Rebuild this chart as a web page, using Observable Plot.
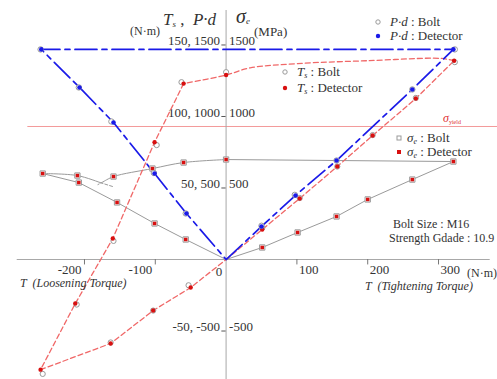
<!DOCTYPE html>
<html><head><meta charset="utf-8">
<script src="https://cdn.jsdelivr.net/npm/d3@7"></script>
<script src="https://cdn.jsdelivr.net/npm/@observablehq/plot@0.6"></script>
<style>
body{margin:0;background:#fff;}
#chart{width:497px;height:379px;overflow:hidden;}
#chart svg text{font-family:"Liberation Serif", serif;}
</style></head><body><div id="chart"></div>
<script>
// ---------- data (T = applied torque, N·m) ----------
// P·d (plotted on the 1500 scale)
const pdTorque     = [0, 50, 98, 156, 263, 321, -261, -207, -159, -101, -56, 0];
const pdDetector   = [0, 231, 448, 692, 1189, 1469, 1469, 1203, 958, 601, 322, 0];
const pdBoltTorque = [0, 50, 97, 156, 263, 323, -262, -208, -162, -102, -57, 0];
const pdBolt       = [0, 236, 452, 692, 1189, 1469, 1469, 1203, 965, 605, 322, 0];

// Ts (N·m) — path pieces
const tsTightTorque   = [0, 51, 104, 157, 207, 268, 322];
const tsTight         = [0, 21, 42.7, 65, 86.7, 112.6, 139];
const tsReleaseTorque = [322, 303, 200, 101, 34, 0, -60];
const tsRelease       = [139, 140.6, 139, 137, 134, 129, 123];
const tsLoosenTorque  = [-60, -101, -160, -213, -262];
const tsLoosen        = [123, 82, 14.7, -30.8, -77];
const tsReturnTorque  = [-262, -163, -103, -50, 0];
const tsReturn        = [-77, -58.7, -35.7, -19.6, 0];
// Ts markers
const tsDetTorque  = [51, 104, 157, 207, 268, 322, 0, -60, -101, -160, -213, -262, -163, -103, -50];
const tsDet        = [21, 42.7, 65, 86.7, 112.6, 139, 129, 123, 82, 14.7, -30.8, -77, -58.7, -35.7, -19.6];
const tsBoltTorque = [51, 104, 157, 207, 268, 323, 0, -63, -98, -159, -211, -259, -163, -103, -53];
const tsBolt       = [22, 43, 65, 87, 113, 138, 131, 124, 80, 13, -31.5, -80, -58, -35.7, -18];

// σe (MPa) — path pieces
const seTightTorque       = [0, 51, 101, 156, 200, 263, 321, 0];
const seTight             = [0, 84, 189, 301, 420, 559, 685, 699];
const seReleaseTorque     = [0, -60, -104, -159, -173];
const seRelease           = [699, 678, 636, 580, 545];
const seReleaseTailTorque = [-173, -181];
const seReleaseTail       = [545, 524];
const seUpperTorque       = [-259, -210, -178];
const seUpper             = [601, 587, 538];
const seUpperTailTorque   = [-178, -160];
const seUpperTail         = [538, 510];
const seLowerTorque       = [-259, -208, -154, -101, -57, 0];
const seLower             = [601, 538, 399, 252, 140, 0];
// σe markers
const seDetTorque = [51, 101, 156, 200, 263, 321, 0, -60, -104, -159, -210, -259, -208, -154, -101, -57];
const seDet       = [84, 189, 301, 420, 559, 685, 699, 678, 636, 580, 587, 601, 538, 399, 252, 140];

const yieldStress = 930;
const yieldExtent = [-280, 390];

// ticks
const yTickTs    = [-50, 50, 100, 150];
const yTickLeft  = ["-50, -500", "50, 500", "100, 1000", "150, 1500"];
const yTickRight = ["-500", "500", "1000", "1500"];
const xTicks     = [-200, -100, 100, 200, 300];
const tsToAxis = 10; // Ts (N·m) shares the axis at 1/10 of the MPa scale

// ---------- helpers ----------
const pts = (xs, ys, k = 1) => xs.map((t, i) => ({T: t, v: ys[i] * k}));

const GRAY = "#9a9a9a", BLUE = "#1a1ae8", RED = "#f06868", REDDOT = "#d81010";
const FONT = "Liberation Serif";

const chart = Plot.plot({
  width: 497, height: 379, margin: 0,
  x: {domain: [-318.6, 383.3], axis: null},
  y: {domain: [-839, 1811], axis: null},
  style: {fontFamily: FONT, background: "white", color: "#333"},
  marks: [
    // yield line
    Plot.ruleY([yieldStress], {x1: yieldExtent[0], x2: yieldExtent[1], stroke: "#f39a9a", strokeWidth: 1}),
    // axes lines
    Plot.ruleY([0], {x1: -295, x2: 373, stroke: "#a8a8a8", strokeWidth: 1}),
    Plot.ruleX([0], {y1: -839, y2: 1741, stroke: "#a8a8a8", strokeWidth: 1}),
    Plot.ruleX(xTicks, {y1: 0, y2: -38, stroke: "#777", strokeWidth: 1}),
    Plot.ruleY(yTickTs.map(v => v * tsToAxis), {x1: -6, x2: 0, stroke: "#555", strokeWidth: 1}),
    // tick labels
    Plot.text(yTickTs.map((v, i) => ({y: v * tsToAxis, s: yTickLeft[i]})),
      {x: 0, y: "y", text: "s", textAnchor: "end", dx: -6, dy: -4, fontSize: 13, fill: "#333"}),
    Plot.text(yTickTs.map((v, i) => ({y: v * tsToAxis, s: yTickRight[i]})),
      {x: 0, y: "y", text: "s", textAnchor: "start", dx: 3, dy: -4, fontSize: 13, fill: "#333"}),
    Plot.text(xTicks.filter(v => v < 0).map(v => ({x: v, s: String(v)})),
      {x: "x", y: 0, text: "s", textAnchor: "end", dx: -3, dy: 10, fontSize: 13, fill: "#333"}),
    Plot.text(xTicks.filter(v => v > 0).map(v => ({x: v, s: String(v)})),
      {x: "x", y: 0, text: "s", textAnchor: "start", dx: 2, dy: 10, fontSize: 13, fill: "#333"}),
    Plot.text([{x: 0, s: "0"}], {x: "x", y: 0, text: "s", textAnchor: "middle", dx: -7, dy: 12, fontSize: 13, fill: "#333"}),

    // σe lines (gray)
    Plot.line(pts(seTightTorque, seTight), {x: "T", y: "v", stroke: GRAY, strokeWidth: 1}),
    Plot.line(pts(seReleaseTorque, seRelease), {x: "T", y: "v", stroke: GRAY, strokeWidth: 1, curve: "catmull-rom"}),
    Plot.line(pts(seReleaseTailTorque, seReleaseTail), {x: "T", y: "v", stroke: GRAY, strokeWidth: 1, strokeDasharray: "3,2"}),
    Plot.line(pts(seUpperTorque, seUpper), {x: "T", y: "v", stroke: GRAY, strokeWidth: 1, curve: "catmull-rom"}),
    Plot.line(pts(seUpperTailTorque, seUpperTail), {x: "T", y: "v", stroke: GRAY, strokeWidth: 1, strokeDasharray: "3,2"}),
    Plot.line(pts(seLowerTorque, seLower), {x: "T", y: "v", stroke: GRAY, strokeWidth: 1}),

    // Ts lines (red dashed)
    Plot.line(pts(tsTightTorque, tsTight, tsToAxis), {x: "T", y: "v", stroke: RED, strokeWidth: 1.3, strokeDasharray: "5,3"}),
    Plot.line(pts(tsReleaseTorque, tsRelease, tsToAxis), {x: "T", y: "v", stroke: RED, strokeWidth: 1.3, strokeDasharray: "5,3", curve: "catmull-rom"}),
    Plot.line(pts(tsLoosenTorque, tsLoosen, tsToAxis), {x: "T", y: "v", stroke: RED, strokeWidth: 1.3, strokeDasharray: "5,3"}),
    Plot.line(pts(tsReturnTorque, tsReturn, tsToAxis), {x: "T", y: "v", stroke: RED, strokeWidth: 1.3, strokeDasharray: "5,3"}),

    // P·d line (blue dash-dot)
    Plot.line(pts(pdTorque, pdDetector), {x: "T", y: "v", stroke: BLUE, strokeWidth: 1.7, strokeDasharray: "22,5,5,5"}),

    // markers: σe
    Plot.dot(pts(seDetTorque, seDet), {x: "T", y: "v", symbol: "square", r: 3, stroke: GRAY, fill: "white", strokeWidth: 1}),
    Plot.dot(pts(seDetTorque, seDet), {x: "T", y: "v", symbol: "square", r: 2, fill: REDDOT, stroke: "none"}),
    // markers: Ts
    Plot.dot(pts(tsBoltTorque, tsBolt, tsToAxis), {x: "T", y: "v", r: 2.6, stroke: GRAY, fill: "white", strokeWidth: 1}),
    Plot.dot(pts(tsDetTorque, tsDet, tsToAxis), {x: "T", y: "v", r: 2.2, fill: REDDOT, stroke: "none"}),
    // markers: P·d
    Plot.dot(pts(pdBoltTorque, pdBolt).filter(d => d.T !== 0), {x: "T", y: "v", r: 2.7, stroke: GRAY, fill: "white", strokeWidth: 1}),
    Plot.dot(pts(pdTorque, pdDetector).filter(d => d.T !== 0), {x: "T", y: "v", r: 2.3, fill: BLUE, stroke: "none"})
  ]
});

document.getElementById("chart").appendChild(chart);

// ---------- annotations (rich text with subscripts) ----------
const svg = d3.select(chart);
const g = svg.append("g").attr("font-family", FONT).attr("fill", "#333");

function rich(x, y, parts, size, opts = {}) {
  const t = g.append("text").attr("x", x).attr("y", y).attr("font-size", size)
    .attr("text-anchor", opts.anchor || "start");
  if (opts.fill) t.attr("fill", opts.fill);
  for (const p of parts) {
    const s = t.append("tspan").text(p.t);
    if (p.i) s.attr("font-style", "italic");
    if (p.sub) s.attr("font-size", p.sub).attr("dy", p.dy || 3);
    if (p.back) s.attr("dy", p.back);
  }
  return t;
}

// axis titles
rich(163, 25, [{t: "T", i: 1}, {t: "s", i: 1, sub: 9, dy: 2}, {t: " ,  ", back: -2}, {t: "P·d", i: 1}], 17);
rich(130, 35, [{t: "(N·m)"}], 12);
rich(236, 23, [{t: "σ", i: 1}, {t: "e", i: 1, sub: 9, dy: 1}], 20);
rich(254, 36, [{t: "(MPa)"}], 13);

// bottom
rich(20, 287, [{t: "T  (Loosening Torque)", i: 1}], 12);
rich(365, 290, [{t: "T  (Tightening Torque)", i: 1}], 12);
rich(467, 277, [{t: "(N·m)"}], 12);

// yield label
rich(443, 122, [{t: "σ", i: 1}, {t: "yield", sub: 6, dy: 2}], 12, {fill: "#e03030"});

// legends
function circ(x, y, r, fill, stroke) {
  g.append("circle").attr("cx", x).attr("cy", y).attr("r", r).attr("fill", fill).attr("stroke", stroke || "none");
}
function sq(x, y, s, fill, stroke) {
  g.append("rect").attr("x", x - s / 2).attr("y", y - s / 2).attr("width", s).attr("height", s)
    .attr("fill", fill).attr("stroke", stroke || "none");
}
circ(378, 22, 2.2, "white", GRAY);
rich(390, 26, [{t: "P·d", i: 1}, {t: " : Bolt"}], 13);
circ(378, 36, 2.2, BLUE);
rich(390, 40, [{t: "P·d", i: 1}, {t: " : Detector"}], 13);

circ(285, 72, 2.2, "white", GRAY);
rich(297, 76, [{t: "T", i: 1}, {t: "s", i: 1, sub: 8, dy: 2}, {t: " : Bolt", back: -2}], 13);
circ(285, 88, 2.2, REDDOT);
rich(297, 92, [{t: "T", i: 1}, {t: "s", i: 1, sub: 8, dy: 2}, {t: " : Detector", back: -2}], 13);

sq(399, 138, 4, "white", GRAY);
rich(407, 142, [{t: "σ", i: 1}, {t: "e", i: 1, sub: 8, dy: 2}, {t: " : Bolt", back: -2}], 13);
sq(399, 152, 4, REDDOT);
rich(407, 156, [{t: "σ", i: 1}, {t: "e", i: 1, sub: 8, dy: 2}, {t: " : Detector", back: -2}], 13);

rich(393, 228, [{t: "Bolt Size : M16"}], 12);
rich(389, 242, [{t: "Strength Gdade : 10.9"}], 12);
</script>
</body></html>
